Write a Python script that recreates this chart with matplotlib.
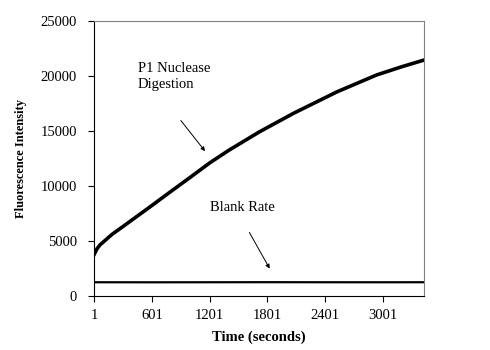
import matplotlib
matplotlib.use("Agg")
import matplotlib.pyplot as plt

# values
time_nuclease = [1, 30, 60, 120, 182, 300, 372, 580, 770, 1000, 1201, 1400,
                 1713, 2070, 2521, 2937, 3200, 3428]
nuclease = [3800, 4300, 4640, 5100, 5580, 6320, 6780, 8100, 9330, 10800, 12100,
            13250, 14900, 16600, 18550, 20100, 20850, 21450]

time_blank = [1, 600, 1200, 1800, 2400, 3000, 3428]
blank = [1250, 1245, 1250, 1255, 1250, 1248, 1252]

x_ticks = [1, 601, 1201, 1801, 2401, 3001]
y_ticks = [0, 5000, 10000, 15000, 20000, 25000]

plt.rcParams['font.family'] = ['Liberation Serif', 'DejaVu Serif']

fig = plt.figure(figsize=(4.9, 3.5), dpi=100)
ax = fig.add_axes([0.1924, 0.1543, 0.6729, 0.7857])

ax.plot(time_nuclease, nuclease, color='black', linewidth=2.6)
ax.plot(time_blank, blank, color='black', linewidth=1.6)

ax.set_xlim(1, 3428)
ax.set_ylim(0, 25000)
ax.set_xticks(x_ticks)
ax.set_yticks(y_ticks)
ax.tick_params(direction='out', length=4.5, width=0.8, labelsize=10.5, pad=5)
ax.tick_params(axis='y', pad=8)

for side in ['top', 'right']:
    ax.spines[side].set_color('#808080')
for side in ['left', 'bottom']:
    ax.spines[side].set_color('black')

ax.set_xlabel('Time (seconds)', fontsize=10.5, fontweight='bold', labelpad=6)
ax.set_ylabel('Fluorescence Intensity', fontsize=9, fontweight='bold', labelpad=10)

ax.text(455, 21300, 'P1 Nuclease\nDigestion', fontsize=10.5, ha='left', va='top',
        linespacing=1.3)
ax.text(1205, 8000, 'Blank Rate', fontsize=10.5, ha='left', va='center')

arrow = dict(arrowstyle='-|>', color='black', linewidth=0.7, mutation_scale=6)
ax.annotate('', xy=(1170, 12970), xytext=(883, 16150), arrowprops=arrow)
ax.annotate('', xy=(1838, 2270), xytext=(1599, 6000), arrowprops=arrow)

fig.savefig('out.png', dpi=100)
